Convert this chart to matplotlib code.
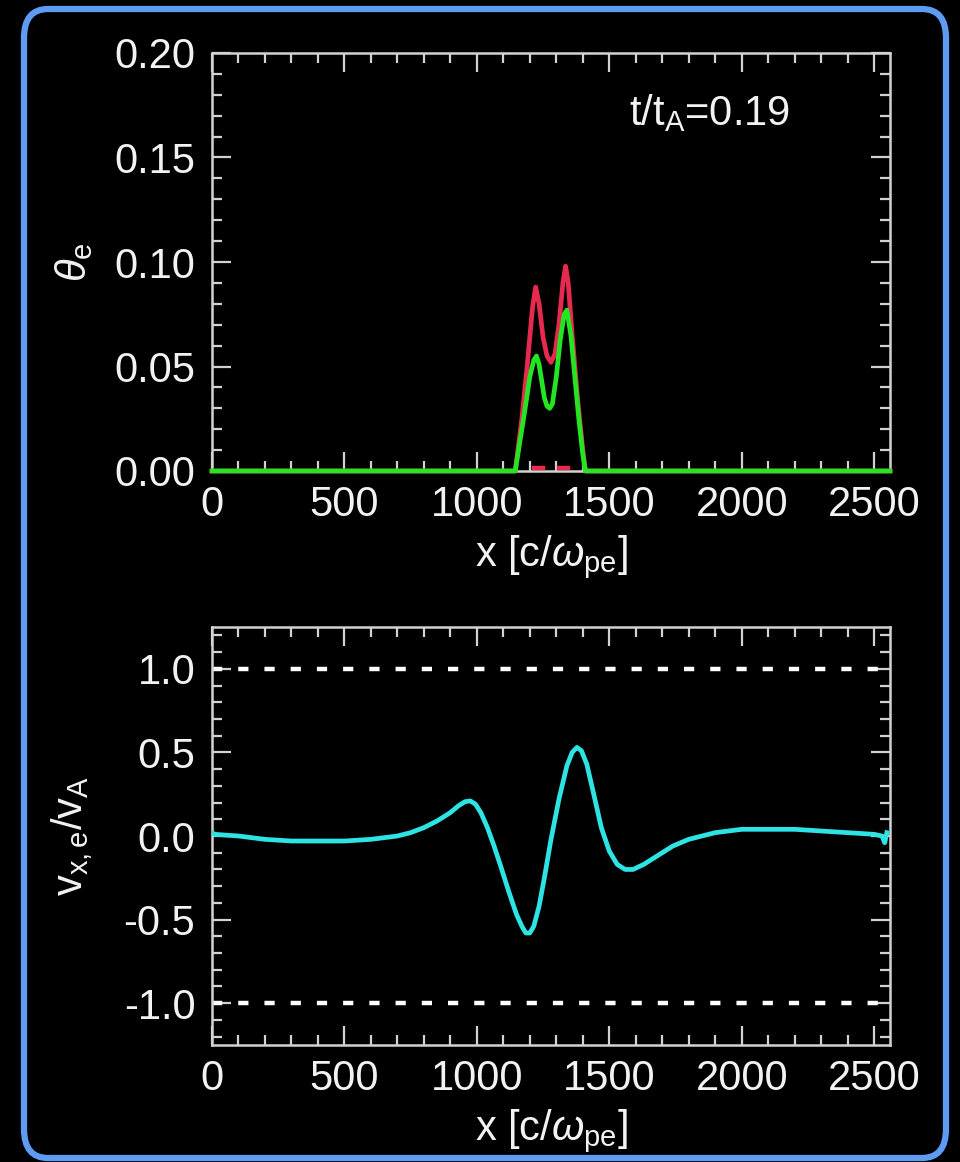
import matplotlib
matplotlib.use('Agg')
import matplotlib.pyplot as plt
from matplotlib.patches import FancyBboxPatch
from matplotlib.ticker import MultipleLocator, FormatStrFormatter

plt.rcParams['font.family'] = ['Liberation Sans', 'DejaVu Sans']
plt.rcParams['mathtext.fontset'] = 'custom'
plt.rcParams['mathtext.rm'] = 'Liberation Sans'
plt.rcParams['mathtext.it'] = 'Liberation Sans:italic'
plt.rcParams['mathtext.bf'] = 'Liberation Sans:bold'

# electron temperature theta_e vs x (two components)
theta_red_x = [0, 1145, 1170, 1190, 1210, 1222, 1235, 1250, 1265, 1280, 1295, 1310,
               1325, 1335, 1345, 1360, 1380, 1400, 1410, 2560]
theta_red_y = [0, 0, 0.025, 0.05, 0.078, 0.088, 0.080, 0.064, 0.055, 0.052, 0.056, 0.070,
               0.090, 0.098, 0.090, 0.065, 0.035, 0.010, 0, 0]
theta_green_x = [0, 1145, 1160, 1180, 1200, 1215, 1225, 1235, 1245, 1255, 1265, 1275,
                 1285, 1300, 1315, 1330, 1340, 1355, 1370, 1385, 1400, 1410, 2560]
theta_green_y = [0, 0, 0.012, 0.028, 0.045, 0.053, 0.055, 0.051, 0.043, 0.035, 0.031, 0.030,
                 0.032, 0.045, 0.063, 0.075, 0.077, 0.065, 0.045, 0.025, 0.008, 0, 0]
# short red pieces poking out just above zero
red_base_x = [1215, 1250, None, 1310, 1345]
red_base_y = [0.0015, 0.0015, None, 0.0015, 0.0015]

# electron bulk velocity v_x,e / v_A vs x
vx_x = [0, 10, 100, 200, 300, 400, 500, 600, 700, 750, 800, 850, 900, 930, 955, 975,
        995, 1015, 1040, 1065, 1090, 1120, 1150, 1170, 1185, 1200, 1215, 1235, 1255,
        1280, 1310, 1340, 1360, 1378, 1395, 1415, 1440, 1470, 1500, 1530, 1560, 1590,
        1630, 1680, 1740, 1800, 1900, 2000, 2100, 2200, 2300, 2400, 2500, 2530, 2540,
        2548]
vx_y = [0.02, 0.01, 0.0, -0.02, -0.03, -0.03, -0.03, -0.02, 0.0, 0.02, 0.05, 0.09, 0.14,
        0.18, 0.205, 0.21, 0.19, 0.14, 0.05, -0.06, -0.18, -0.33, -0.47, -0.54, -0.58,
        -0.58, -0.54, -0.42, -0.25, -0.02, 0.22, 0.42, 0.50, 0.53, 0.51, 0.43, 0.26,
        0.05, -0.09, -0.17, -0.20, -0.20, -0.17, -0.12, -0.06, -0.02, 0.02, 0.04, 0.04,
        0.04, 0.03, 0.02, 0.01, 0.0, -0.04, 0.02]
vx_limits = [1.0, -1.0]

time_label = r'$\mathregular{t/t_A}$=0.19'

FG = '#f2f2f2'
SPINE = '#d2d2d2'
FS = 30

fig = plt.figure(figsize=(9.6, 11.62), dpi=100, facecolor='black')

# rounded blue frame
frame = FancyBboxPatch((24 / 960, 1 - 1158 / 1162), 922 / 960, 1149 / 1162,
                       boxstyle='round,pad=0,rounding_size=0.025',
                       transform=fig.transFigure, facecolor='none',
                       edgecolor='#5d9cf2', linewidth=4.5, zorder=-1)
fig.patches.append(frame)


def style_axes(ax, xmin, xmax):
    ax.set_facecolor('black')
    ax.patch.set_alpha(0)
    for s in ax.spines.values():
        s.set_color(SPINE)
        s.set_linewidth(1.8)
    ax.set_xlim(xmin, xmax)
    ax.xaxis.set_major_locator(MultipleLocator(500))
    ax.xaxis.set_minor_locator(MultipleLocator(100))
    ax.tick_params(which='both', direction='in', top=True, right=True,
                   color=SPINE, width=1.6, labelcolor=FG, labelsize=FS)
    ax.tick_params(which='major', length=14)
    ax.tick_params(which='minor', length=7)
    ax.tick_params(axis='y', pad=12)
    ax.tick_params(axis='x', pad=10)


ax1 = fig.add_axes([212 / 960, 1 - 471 / 1162, 678 / 960, 418 / 1162])
style_axes(ax1, 0, 2560)
ax1.set_ylim(0, 0.2)
ax1.yaxis.set_major_locator(MultipleLocator(0.05))
ax1.yaxis.set_minor_locator(MultipleLocator(0.01))
ax1.yaxis.set_major_formatter(FormatStrFormatter('%.2f'))
ax1.plot(theta_red_x, theta_red_y, color='#e8294f', lw=3.4, clip_on=False, zorder=3)
ax1.plot(theta_green_x, theta_green_y, color='#22e622', lw=3.4, clip_on=False, zorder=4)
ax1.plot(red_base_x, red_base_y, color='#e8294f', lw=3.2, zorder=5)
ax1.text(0.615, 0.857, time_label, transform=ax1.transAxes, color=FG,
         fontsize=FS, va='center', ha='left')
ax1.set_xlabel(r'x [c/$\omega_{\mathregular{pe}}$]', color=FG, fontsize=FS, labelpad=6)
ax1.set_ylabel(r'$\theta_{\mathregular{e}}$', color=FG, fontsize=FS)
ax1.yaxis.set_label_coords(-0.172, 0.5)

ax2 = fig.add_axes([212 / 960, 1 - 1045 / 1162, 678 / 960, 418 / 1162])
style_axes(ax2, 0, 2560)
ax2.set_ylim(-1.25, 1.25)
ax2.yaxis.set_major_locator(MultipleLocator(0.5))
ax2.yaxis.set_minor_locator(MultipleLocator(0.1))
ax2.yaxis.set_major_formatter(FormatStrFormatter('%.1f'))
for lim in vx_limits:
    ax2.axhline(lim, color='white', lw=3.2, dashes=(2.3, 3.6), zorder=2)
ax2.plot(vx_x, vx_y, color='#2ee3e3', lw=3.4, zorder=3)
ax2.set_xlabel(r'x [c/$\omega_{\mathregular{pe}}$]', color=FG, fontsize=FS, labelpad=6)
ax2.set_ylabel(r'$\mathregular{v_{x,e}/v_A}$', color=FG, fontsize=FS)
ax2.yaxis.set_label_coords(-0.172, 0.5)

fig.savefig('out.png', dpi=100, facecolor='black')
